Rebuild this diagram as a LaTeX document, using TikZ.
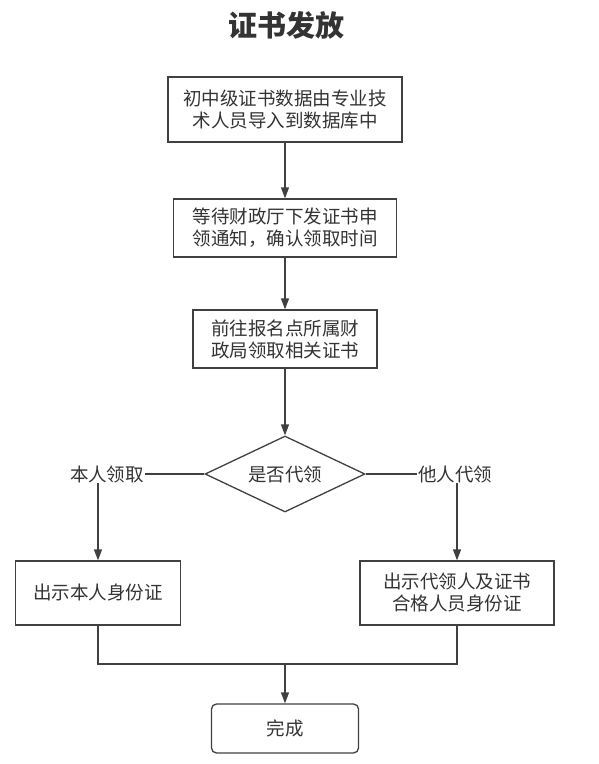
\documentclass[tikz,border=0pt]{standalone}
\usepackage{fontspec}
\usepackage{tikz}
\usetikzlibrary{shapes.geometric,arrows.meta}
\setmainfont{Noto Sans CJK SC}
\newfontfamily\cjk{Noto Sans CJK SC}
\definecolor{linegray}{HTML}{404040}
\definecolor{textgray}{HTML}{333333}

\begin{document}
\begin{tikzpicture}[x=1pt,y=-1pt,
        line width=1.3pt,
        stepbox/.style={draw=linegray,text=textgray,align=center,inner sep=0pt,
            font=\cjk\fontsize{18.5}{22}\selectfont},
        choice/.style={draw=linegray,shape=diamond,shape aspect=2.1,inner sep=0pt,text=textgray,
            font=\cjk\fontsize{18.5}{22}\selectfont},
        branch/.style={text=textgray,inner sep=0pt,font=\cjk\fontsize{18.5}{22}\selectfont},
        flow/.style={draw=linegray,-{Triangle[length=11pt,width=8pt]}}]
        \useasboundingbox (0,0) rectangle (598,764);
        \node[text=textgray,font=\cjk\bfseries\fontsize{29}{32}\selectfont] (title) at (286,25) {证书发放};
        \node[stepbox,minimum width=234pt,minimum height=65pt] (import) at (285,109.5) {初中级证书数据由专业技\\术人员导入到数据库中};
        \node[stepbox,minimum width=223pt,minimum height=58pt] (notice) at (285,228) {等待财政厅下发证书申\\领通知，确认领取时间};
        \node[stepbox,minimum width=184pt,minimum height=58pt] (collect) at (285,339) {前往报名点所属财\\政局领取相关证书};
        \node[choice,minimum width=160pt,minimum height=76pt] (agent) at (285,474) {是否代领};
        \node[branch] (self) at (107,474) {本人领取};
        \node[branch] (other) at (455,474) {他人代领};
        \node[stepbox,minimum width=165pt,minimum height=64pt] (selfid) at (98,593) {出示本人身份证};
        \node[stepbox,minimum width=194pt,minimum height=64pt] (otherid) at (457,593) {出示代领人及证书\\合格人员身份证};
        \node[stepbox,rounded corners=5pt,minimum width=147pt,minimum height=49pt] (done) at (285,728.5) {完成};
        \coordinate (merge) at (285,664);
        \draw[flow] (import) -- (notice);
        \draw[flow] (notice) -- (collect);
        \draw[flow] (collect) -- (agent);
        \draw[draw=linegray] (agent.west) -- (self.east);
        \draw[draw=linegray] (agent.east) -- (other.west);
        \draw[flow] (self.south -| selfid.north) -- (selfid.north);
        \draw[flow] (other.south -| otherid.north) -- (otherid.north);
        \draw[draw=linegray] (selfid.south) |- (merge) -| (otherid.south);
        \draw[flow] (merge) -- (done);
    \end{tikzpicture}
\end{document}
